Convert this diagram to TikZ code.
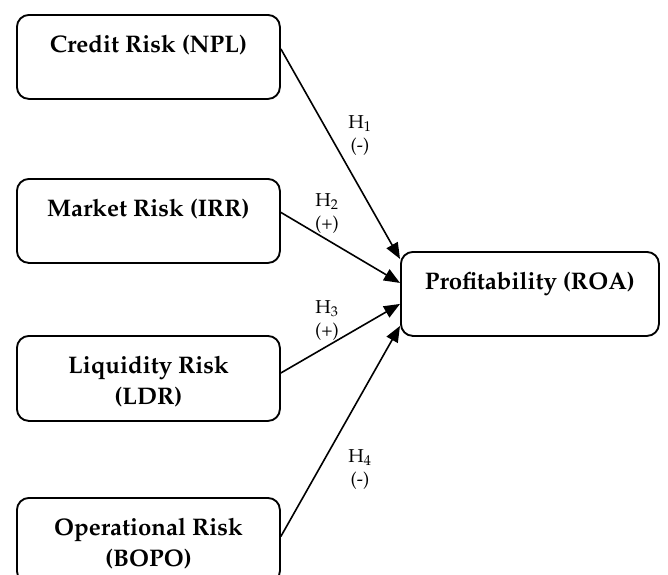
\documentclass[tikz,border=0pt]{standalone}
\usepackage[T1]{fontenc}
\usepackage{mathpazo}
\usetikzlibrary{arrows.meta}
\tikzset{
  box/.style={draw, line width=1.4pt, rounded corners=9pt, minimum width=197.25pt,
    inner xsep=2pt, inner ysep=0pt, align=center, font=\fontsize{18}{23.25}\selectfont\bfseries,
    text height=28.5pt, text depth=34.5pt},
  twoline/.style={text height=51.75pt, text depth=12pt},
  arr/.style={line width=1.2pt, -{Triangle[length=12pt,width=9.5pt]}},
  hyp/.style={inner sep=0pt, align=center, font=\fontsize{14}{17.25}\selectfont}
}
\begin{document}
\begin{tikzpicture}[x=0.75pt,y=-0.75pt]
\useasboundingbox (0,0) rectangle (668,575);
\node[box, anchor=north west] (b1) at (16,14) {Credit Risk (NPL)};
\node[box, anchor=north west] (b2) at (16,178) {Market Risk (IRR)};
\node[box, twoline, anchor=north west] (b3) at (16,335) {Liquidity Risk\\(LDR)};
\node[box, twoline, anchor=north west] (b4) at (16,497) {Operational Risk\\(BOPO)};
\node[box, anchor=north west, minimum width=193.5pt] (roa) at (400,251) {Profitability (ROA)};
\draw[arr] ([yshift=6pt]b1.east) -- ([yshift=26.25pt]roa.west);
\draw[arr] ([yshift=6.4pt]b2.east) -- ([yshift=8.25pt]roa.west);
\draw[arr] ([yshift=4.1pt]b3.east) -- ([yshift=-7.5pt]roa.west);
\draw[arr] ([yshift=3pt]b4.east) -- ([yshift=-24pt]roa.west);
\node[hyp, anchor=base] (h1) at (360,151) {H\textsubscript{1}\\(-)};
\node[hyp, anchor=base] (h2) at (327,229) {H\textsubscript{2}\\(+)};
\node[hyp, anchor=base] (h3) at (327,336) {H\textsubscript{3}\\(+)};
\node[hyp, anchor=base] (h4) at (360,485) {H\textsubscript{4}\\(-)};
\end{tikzpicture}
\end{document}
